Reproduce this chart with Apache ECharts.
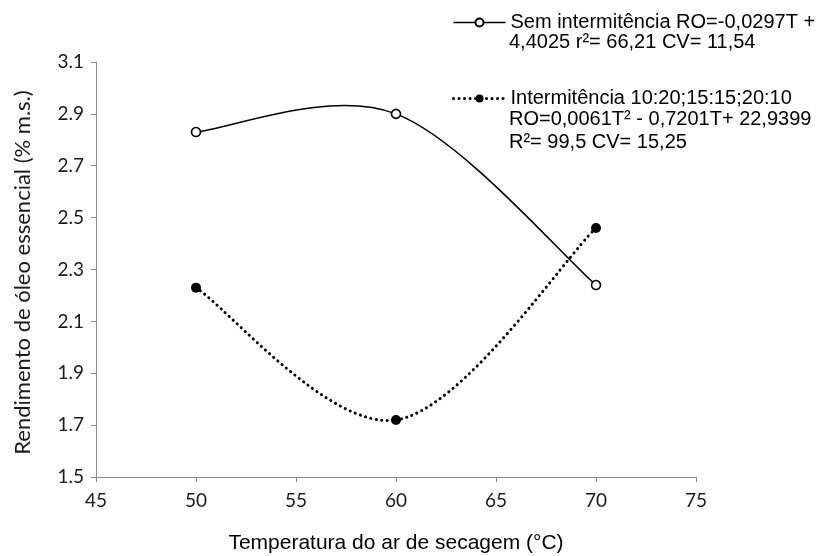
<!DOCTYPE html>
<html>
<head>
<meta charset="utf-8">
<script src="https://cdn.jsdelivr.net/npm/echarts@6/dist/echarts.min.js"></script>
<style>
  html, body { margin: 0; padding: 0; background: #fff; }
  #chart { width: 829px; height: 556px; }
</style>
</head>
<body>
<div id="chart"></div>
<script>
// Drying air temperature (°C)
const temperatures = [50, 60, 70];
// Essential oil yield (% dry matter), continuous drying
const semIntermitencia = [2.83, 2.90, 2.24];
// Essential oil yield (% dry matter), intermittent drying
const intermitencia = [2.23, 1.72, 2.46];

// Axis ticks
const xTicks = [45, 50, 55, 60, 65, 70, 75];
const yTicks = [1.5, 1.7, 1.9, 2.1, 2.3, 2.5, 2.7, 2.9, 3.1];

// Legend texts (first line shown by the legend, the rest below it)
const legendSem = ['Sem intermitência RO=-0,0297T +', '4,4025 r²= 66,21 CV= 11,54'];
const legendInt = ['Intermitência 10:20;15:15;20:10', 'RO=0,0061T² - 0,7201T+ 22,9399', 'R²= 99,5 CV= 15,25'];

const toPairs = (xs, ys) => xs.map((x, i) => [x, ys[i]]);

// Smoothed curve through the points (Catmull-Rom style cubic segments),
// one segment per data item, positioned through the chart's own axes.
function smoothCurve(values, lineWidth, lineDash) {
  const n = values.length;
  return function (params, api) {
    const i = params.dataIndex;
    if (i >= n - 1) return null;
    const pt = j => {
      const k = Math.max(0, Math.min(n - 1, j));
      return api.coord([temperatures[k], values[k]]);
    };
    const p0 = pt(i - 1), p1 = pt(i), p2 = pt(i + 1), p3 = pt(i + 2);
    return {
      type: 'bezierCurve',
      shape: {
        x1: p1[0], y1: p1[1],
        x2: p2[0], y2: p2[1],
        cpx1: p1[0] + (p2[0] - p0[0]) / 6,
        cpy1: p1[1] + (p2[1] - p0[1]) / 6,
        cpx2: p2[0] - (p3[0] - p1[0]) / 6,
        cpy2: p2[1] - (p3[1] - p1[1]) / 6
      },
      style: {
        stroke: '#000',
        fill: 'none',
        lineWidth: lineWidth,
        lineDash: lineDash,
        lineCap: 'round'
      },
      silent: true
    };
  };
}

const chart = echarts.init(document.getElementById('chart'), null, { renderer: 'canvas' });

const legendFont = 'Liberation Sans, Arial, sans-serif';
const tickFont = 'Lato, Calibri, sans-serif';
const dotPattern = [0.1, 5.4];

chart.setOption({
  animation: false,
  backgroundColor: '#ffffff',
  grid: { left: 96, top: 62, right: 133, bottom: 79, containLabel: false, outerBoundsMode: 'none' },
  legend: {
    orient: 'vertical',
    left: 452,
    top: 12.5,
    padding: 0,
    itemWidth: 52,
    itemHeight: 10,
    itemGap: 56,
    textStyle: { fontFamily: legendFont, fontSize: 20, color: '#000' },
    data: [
      { name: legendSem[0], lineStyle: { opacity: 1, color: '#000', width: 1.6, type: 'solid' } },
      { name: legendInt[0], lineStyle: { opacity: 1, color: '#000', width: 3, type: dotPattern, cap: 'round' } }
    ]
  },
  graphic: [
    { type: 'text', left: 509, top: 32, style: { text: legendSem[1], font: '20px ' + legendFont, fill: '#000' } },
    { type: 'text', left: 509, top: 109, style: { text: legendInt[1], font: '20px ' + legendFont, fill: '#000' } },
    { type: 'text', left: 509, top: 132, style: { text: legendInt[2], font: '20px ' + legendFont, fill: '#000' } }
  ],
  xAxis: {
    type: 'value',
    min: 45,
    max: 75,
    interval: 5,
    name: 'Temperatura do ar de secagem (°C)',
    nameLocation: 'middle',
    nameGap: 56,
    nameTextStyle: { fontFamily: legendFont, fontSize: 21, color: '#000' },
    axisLine: { lineStyle: { color: '#8c8c8c', width: 1 } },
    axisTick: { show: true, inside: false, length: 5, lineStyle: { color: '#8c8c8c' } },
    axisLabel: { margin: 14, fontFamily: tickFont, fontSize: 19, color: '#1a1a1a', customValues: xTicks },
    splitLine: { show: false }
  },
  yAxis: {
    type: 'value',
    min: 1.5,
    max: 3.1,
    name: 'Rendimento de óleo essencial (% m.s.)',
    nameLocation: 'middle',
    nameGap: 62,
    nameTextStyle: { fontFamily: tickFont, fontSize: 22, color: '#1a1a1a', padding: [0, 6, 0, 0] },
    axisLine: { show: true, lineStyle: { color: '#8c8c8c', width: 1 } },
    axisTick: { show: true, inside: false, length: 5, lineStyle: { color: '#8c8c8c' }, customValues: yTicks },
    axisLabel: {
      margin: 12, fontFamily: tickFont, fontSize: 19, color: '#1a1a1a',
      customValues: yTicks,
      formatter: v => v.toFixed(1)
    },
    splitLine: { show: false }
  },
  series: [
    {
      type: 'custom',
      renderItem: smoothCurve(semIntermitencia, 1.6, null),
      data: toPairs(temperatures, semIntermitencia),
      encode: { x: 0, y: 1 },
      z: 2
    },
    {
      type: 'custom',
      renderItem: smoothCurve(intermitencia, 3, dotPattern),
      data: toPairs(temperatures, intermitencia),
      encode: { x: 0, y: 1 },
      z: 2
    },
    {
      name: legendSem[0],
      type: 'line',
      data: toPairs(temperatures, semIntermitencia),
      symbol: 'circle',
      symbolSize: 9,
      showSymbol: true,
      lineStyle: { opacity: 0, width: 1.6 },
      itemStyle: { color: '#fff', borderColor: '#000', borderWidth: 1.6 },
      z: 4
    },
    {
      name: legendInt[0],
      type: 'line',
      data: toPairs(temperatures, intermitencia),
      symbol: 'circle',
      symbolSize: 10,
      showSymbol: true,
      lineStyle: { opacity: 0, width: 3 },
      itemStyle: { color: '#000', borderColor: '#000', borderWidth: 0 },
      z: 4
    }
  ]
});
</script>
</body>
</html>
